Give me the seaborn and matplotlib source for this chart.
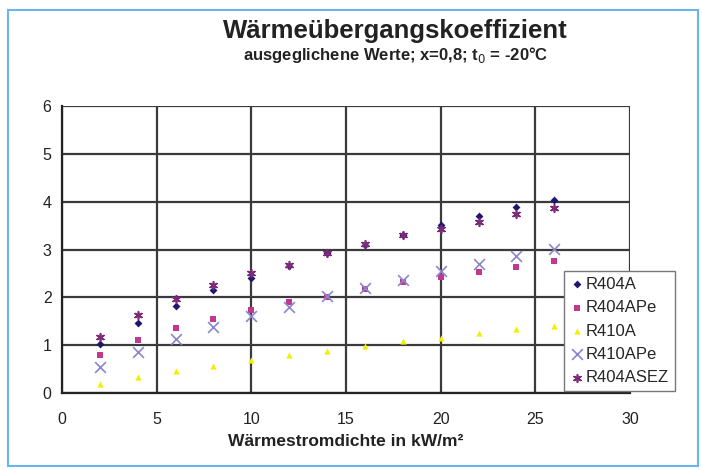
import numpy as np
import pandas as pd
import seaborn as sns
import matplotlib.pyplot as plt
from matplotlib.patches import Rectangle

# heat flux density in kW/m2
flux = [2, 4, 6, 8, 10, 12, 14, 16, 18, 20, 22, 24, 26]

r404a = [1.02, 1.47, 1.82, 2.15, 2.41, 2.66, 2.92, 3.10, 3.30, 3.51, 3.70, 3.88, 4.04]
r404ape = [0.79, 1.11, 1.35, 1.55, 1.74, 1.91, 2.01, 2.18, 2.33, 2.43, 2.53, 2.64, 2.76]
r410a = [0.19, 0.34, 0.47, 0.57, 0.68, 0.79, 0.88, 0.98, 1.09, 1.15, 1.26, 1.33, 1.41]
r410ape = [0.55, 0.86, 1.13, 1.38, 1.61, 1.80, 2.03, 2.20, 2.36, 2.55, 2.69, 2.86, 3.02]
r404asez = [1.18, 1.64, 1.96, 2.25, 2.50, 2.68, 2.93, 3.12, 3.31, 3.42, 3.57, 3.74, 3.87]

series_names = ["R404A", "R404APe", "R410A", "R410APe", "R404ASEZ"]
series_values = [r404a, r404ape, r410a, r410ape, r404asez]

x_ticks = [0, 5, 10, 15, 20, 25, 30]
y_ticks = [0, 1, 2, 3, 4, 5, 6]

# marker style per series
STYLES = {
    "R404A": dict(marker="D", color="#1c1870", s=16),
    "R404APe": dict(marker="s", color="#c2388e", s=16),
    "R410A": dict(marker="^", color="#f2f000", s=20),
    "R410APe": dict(marker="x", color="#8a86cc", s=60),
    "R404ASEZ": dict(marker=(6, 2, 0), color="#7d2a78", s=30),
}

df = pd.concat(
    [pd.DataFrame({"flux": flux, "alpha": vals, "series": name})
     for name, vals in zip(series_names, series_values)],
    ignore_index=True,
)

sns.set_style("white")
plt.rcParams["font.family"] = ["Liberation Sans", "DejaVu Sans"]

fig = plt.figure(figsize=(7.02, 4.70), dpi=100)
ax = fig.add_axes([0.0883, 0.1638, 0.8091, 0.6106])

for name in series_names:
    st = STYLES[name]
    sub = df[df["series"] == name]
    lw = 1.2 if name in ("R410APe", "R404ASEZ") else 0
    sns.scatterplot(
        data=sub, x="flux", y="alpha", ax=ax, label=name,
        marker=st["marker"], color=st["color"], s=st["s"],
        edgecolor=st["color"], linewidth=lw, zorder=3,
    )

ax.set_xlim(0, 30)
ax.set_ylim(0, 6)
ax.set_xticks(x_ticks)
ax.set_yticks(y_ticks)
ax.grid(True, color="#3a3a3a", linewidth=1.6, zorder=0)
ax.set_axisbelow(True)
for side in ["top", "right"]:
    ax.spines[side].set_visible(False)
for side in ["left", "bottom"]:
    ax.spines[side].set_color("#222222")
    ax.spines[side].set_linewidth(1.6)
ax.tick_params(axis="both", labelsize=11.5, length=4, width=1.2, color="#222222",
               labelcolor="#222222", direction="out")
ax.tick_params(axis="x", pad=10)
ax.set_ylabel("")
ax.set_xlabel("Wärmestromdichte in kW/m²", fontsize=12.5, fontweight="bold",
              color="#222222", labelpad=5)

leg = ax.legend(
    loc="lower left", bbox_to_anchor=(564 / 702, 1 - 391 / 470),
    bbox_transform=fig.transFigure, fontsize=12, frameon=True,
    fancybox=False, edgecolor="#777777", framealpha=1,
    handletextpad=0.05, handlelength=0.9, labelspacing=0.5,
    borderpad=0.35, borderaxespad=0,
)
leg.get_frame().set_linewidth(1.0)

fig.text(0.563, 0.935, "Wärmeübergangskoeffizient", ha="center", va="center",
         fontsize=18.5, fontweight="bold", color="#222222")
fig.text(0.563, 0.882, "ausgeglichene Werte; x=0,8; t$_0$ = -20°C", ha="center",
         va="center", fontsize=12, fontweight="bold", color="#222222")

# light blue frame around the figure
fig.patches.append(Rectangle((8 / 702, 4 / 470), 690 / 702, 456 / 470,
                             transform=fig.transFigure, fill=False,
                             edgecolor="#6cb4ee", linewidth=1.5))

fig.savefig("out.png", dpi=100)
